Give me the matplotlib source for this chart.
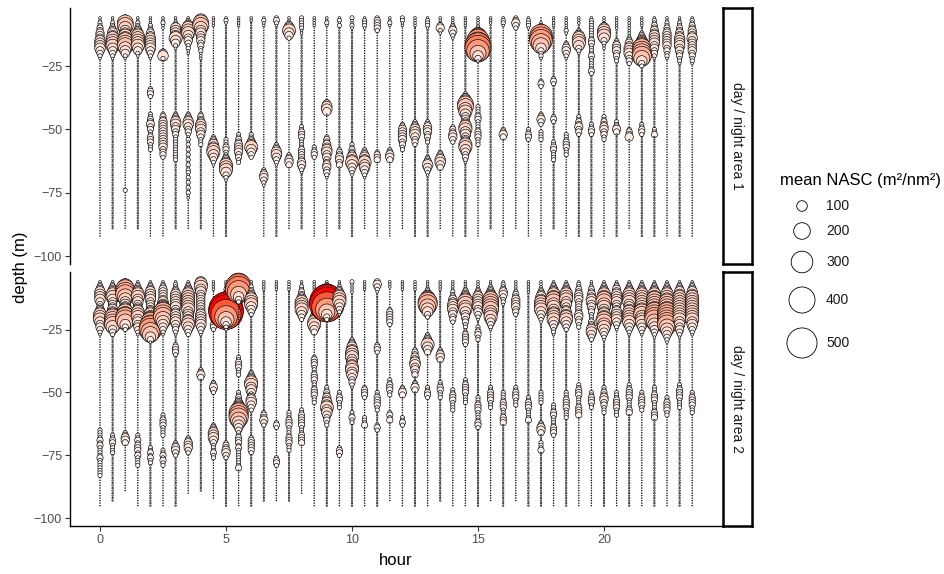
import numpy as np
import matplotlib
matplotlib.use("Agg")
import matplotlib.pyplot as plt
from matplotlib.colors import ListedColormap

plt.rcParams['font.family'] = ['Liberation Sans', 'DejaVu Sans']
DPI = 100

# sampling hours (one profile every half hour)
hours = [0, 0.5, 1, 1.5, 2, 2.5, 3, 3.5, 4, 4.5, 5, 5.5, 6, 6.5, 7, 7.5,
         8, 8.5, 9, 9.5, 10, 10.5, 11, 11.5, 12, 12.5, 13, 13.5, 14, 14.5, 15, 15.5,
         16, 16.5, 17, 17.5, 18, 18.5, 19, 19.5, 20, 20.5, 21, 21.5, 22, 22.5, 23, 23.5]

# NASC classes: one character per 1 m depth bin
level_chars = ".:123456789ABC"
level_nasc = [2, 5, 12, 25, 45, 70, 100, 140, 190, 250, 320, 400, 500, 620]
legend_breaks = [100, 200, 300, 400, 500]
panel_labels = ["day / night area 1", "day / night area 2"]
top_depth = 6

# ---- area 1 ----
area1_bottom = [92, 89, 89, 89, 92, 92, 89, 89, 89, 92, 92, 63, 61, 92, 92, 89,
                89, 92, 92, 89, 92, 89, 92, 92, 89, 92, 92, 89, 92, 92, 92, 89,
                92, 89, 92, 92, 89, 92, 92, 92, 92, 92, 89, 92, 92, 92, 92, 92]
area1_background = ".:.:..:.:.:.:.:.:" + "..::....::..:.:...." + ":.::.:.::.:."
area1_layers = [
    [(6, "11223344455554321")],
    [(6, "11223455666654321")],
    [(6, "35776556677765421"), (74, "2")],
    [(6, "1122345666665421")],
    [(6, "11122344555554321"), (34, "2332"), (44, "223343322333222")],
    [(6, "11211"), (19, "2452"), (44, "233444444444443332")],
    [(6, "1123555565421"), (44, "2345544332222222222")],
    [(6, "123566654432211"), (44, "234554332"), (53, "1212121212121221212121211")],
    [(6, "36776554443322111"), (44, "2334555443222")],
    [(6, "1111"), (53, "234556654321")],
    [(6, "121"), (54, "22233223456665321")],
    [(6, "1111"), (52, "223344443322")],
    [(6, "11"), (52, "2234565432")],
    [(6, "1211"), (66, "2344321")],
    [(6, "2321"), (56, "234554321")],
    [(6, "112456542"), (60, "23443")],
    [(6, "2222211"), (49, "2233322223333344321")],
    [(6, "1111"), (57, "22332")],
    [(6, "1121"), (39, "24554"), (53, "23344554433443321")],
    [(6, "1212"), (58, "2334433")],
    [(6, "21121"), (56, "2233455654321")],
    [(6, "12221"), (58, "234556554321")],
    [(6, "233332"), (59, "2333")],
    [(6, "1121"), (58, "23443")],
    [(6, "2211"), (48, "23444443322")],
    [(6, "1111"), (47, "2345554332")],
    [(6, "12221"), (47, "234443322"), (61, "23454321")],
    [(6, "1113421"), (59, "2345543")],
    [(6, "111234321"), (49, "2334432")],
    [(6, "1111"), (36, "2356776654445665544566543321")],
    [(6, "1111"), (10, "2357899AA97531"), (41, "2222332222333222")],
    [(6, "111")],
    [(6, "1221"), (50, "2343")],
    [(6, "23432")],
    [(6, "12221"), (50, "22332")],
    [(8, "123679998753221"), (31, "232"), (44, "23432"), (51, "2222")],
    [(6, "1111"), (30, "232"), (45, "232"), (55, "22332222")],
    [(6, "1111121"), (16, "2344321"), (52, "222333222")],
    [(6, "111"), (11, "2356665321"), (45, "22334332")],
    [(6, "1222"), (10, "2222233222232222232"), (48, "22332")],
    [(6, "1113566653211"), (45, "2233443322")],
    [(6, "11111"), (15, "234443322"), (47, "22343")],
    [(6, "11111111"), (14, "23445554332"), (50, "2334")],
    [(6, "1111"), (12, "23456788887532"), (48, "22332")],
    [(6, "12233445555443321"), (50, "223")],
    [(6, "11223344444433221")],
    [(6, "1122334455554433221")],
    [(6, "1223344454444433221")],
]

# ---- area 2 ----
area2_bottom = [95, 93, 89, 95, 95, 95, 95, 90, 89, 92, 95, 95, 95, 93, 93, 93,
                90, 95, 95, 95, 95, 95, 95, 93, 95, 95, 95, 93, 95, 95, 95, 93,
                95, 93, 95, 95, 95, 95, 95, 95, 95, 95, 95, 95, 95, 95, 95, 95]
area2_background = ".:..:.:." + ":.:.::.:" + "..:.:.:." + ".:.:..:." + ":.::.:.." + ":.:.:.:."
area2_layers = [
    [(6, "1234555543345666544321"), (65, "2222323222232222222")],
    [(6, "1234566544455677776432"), (67, "22332222")],
    [(6, "35788876555677887532"), (66, "23443")],
    [(6, "1234566554456665544321"), (67, "2232333232222")],
    [(6, "1234555544445667889987531"), (72, "2232322")],
    [(6, "1234444455678887654321"), (59, "223332222"), (73, "2232322")],
    [(6, "1223455555544555543321"), (31, "23332"), (70, "234432")],
    [(6, "1234566666665555665432"), (68, "2344432")],
    [(6, "5665544444444555554321"), (41, "2343")],
    [(6, "1111"), (22, "2332"), (46, "23432"), (63, "234555432"), (72, "22322")],
    [(6, "1112234579BCCB975321"), (70, "2334432")],
    [(6, "79AA97532"), (36, "22333222"), (50, "2233456788876543223332322222223")],
    [(6, "11223456665432"), (42, "2345665543455432"), (68, "2333332")],
    [(6, "1111"), (58, "233432")],
    [(6, "1111"), (62, "232"), (76, "2332")],
    [(6, "1111"), (58, "2223332222333222")],
    [(6, "1122334566665432"), (57, "22333332223333")],
    [(6, "1111"), (18, "234566543"), (36, "2333222333222333222")],
    [(6, "123468ABCCB97532"), (48, "2233445565543322")],
    [(6, "11234566654321"), (50, "2233222"), (72, "2332")],
    [(6, "21111"), (29, "23455666555665543321"), (58, "22322")],
    [(6, "1111"), (48, "23332"), (60, "2223")],
    [(6, "34321"), (31, "2332"), (50, "22333322"), (63, "232")],
    [(6, "111"), (17, "2333332"), (45, "2233322"), (58, "2323")],
    [(6, "1111"), (48, "2343"), (60, "2232")],
    [(6, "1111"), (33, "23344554433"), (46, "2343")],
    [(6, "11"), (8, "1234678876532"), (27, "23456543"), (48, "22332")],
    [(6, "1111"), (33, "23443"), (46, "2233222")],
    [(6, "111"), (9, "12234455544332"), (49, "223332222")],
    [(6, "11"), (8, "123456776654433221"), (26, "233332"), (45, "2233332222")],
    [(6, "11"), (8, "12345555544321"), (24, "223322"), (52, "2223332222332")],
    [(6, "1"), (7, "1234567777766654321"), (48, "223333222")],
    [(6, "1223443221"), (50, "2222333222333")],
    [(6, "1111"), (10, "2334444332"), (48, "22333222")],
    [(6, "11111"), (52, "2233322223")],
    [(6, "11"), (8, "123455666654321"), (50, "22222"), (62, "23443"), (70, "2223")],
    [(6, "1234566776655666543221"), (55, "2223322223332")],
    [(6, "12345666554455665432"), (50, "22233332222")],
    [(6, "1223344433333443322"), (47, "2233322223333")],
    [(6, "11"), (8, "2334455443322233455432"), (50, "2233322")],
    [(6, "123456677665566776654321"), (48, "22334433222")],
    [(6, "12344555544455554321"), (50, "2223333222")],
    [(6, "1234566665556666654321"), (47, "223333222233")],
    [(6, "1234566666667766654321"), (50, "22333322")],
    [(6, "12345667777788887654321"), (48, "2223332222333")],
    [(6, "1234566677778888887654321"), (52, "22333322")],
    [(6, "12345566666666665544321"), (47, "2233332222")],
    [(6, "1234556666666666554321"), (50, "223333222")],
]


def build_points(bottoms, background, layers):
    xs, ys, vals = [], [], []
    for h, bottom, bg, segs in zip(hours, bottoms, background, layers):
        profile = {d: bg for d in range(top_depth, bottom + 1)}
        for start, levels in segs:
            for k, ch in enumerate(levels):
                profile[start + k] = ch
        for d in sorted(profile):
            xs.append(h)
            ys.append(-d)
            vals.append(level_nasc[level_chars.index(profile[d])])
    return np.array(xs), np.array(ys), np.array(vals, dtype=float)


def marker_area(v):
    diam_px = 0.53 * np.asarray(v, dtype=float) ** 0.65
    return (diam_px * 72 / DPI) ** 2


# white -> red gradient interpolated in CIELAB (like ggplot)
M = np.array([[0.4124564, 0.3575761, 0.1804375],
              [0.2126729, 0.7151522, 0.0721750],
              [0.0193339, 0.1191920, 0.9503041]])
WHITE = np.array([0.95047, 1.0, 1.08883])


def srgb_to_lab(rgb):
    lin = np.where(rgb > 0.04045, ((rgb + 0.055) / 1.055) ** 2.4, rgb / 12.92)
    xyz = lin @ M.T / WHITE
    f = np.where(xyz > 216 / 24389, np.cbrt(xyz), (24389 / 27 * xyz + 16) / 116)
    return np.stack([116 * f[..., 1] - 16, 500 * (f[..., 0] - f[..., 1]),
                     200 * (f[..., 1] - f[..., 2])], axis=-1)


def lab_to_srgb(lab):
    fy = (lab[..., 0] + 16) / 116
    f = np.stack([fy + lab[..., 1] / 500, fy, fy - lab[..., 2] / 200], axis=-1)
    xyz = np.where(f ** 3 > 216 / 24389, f ** 3, (116 * f - 16) / (24389 / 27)) * WHITE
    lin = np.clip(xyz @ np.linalg.inv(M).T, 0, 1)
    return np.where(lin > 0.0031308, 1.055 * lin ** (1 / 2.4) - 0.055, 12.92 * lin)


lab_lo = srgb_to_lab(np.array([1.0, 1.0, 1.0]))
lab_hi = srgb_to_lab(np.array([1.0, 0.0, 0.0]))
t = np.linspace(0, 1, 256)[:, None]
cmap = ListedColormap(np.clip(lab_to_srgb(lab_lo + (lab_hi - lab_lo) * t), 0, 1))

vmax = max(level_nasc)

fig = plt.figure(figsize=(9.45, 5.74), dpi=DPI)
W, H = 945.0, 574.0
left_px, right_px = 70.4, 721.8
panels = [(8, 264), (272, 526)]
datasets = [(area1_bottom, area1_background, area1_layers),
            (area2_bottom, area2_background, area2_layers)]

for i, ((top_px, bot_px), data) in enumerate(zip(panels, datasets)):
    ax = fig.add_axes([left_px / W, 1 - bot_px / H, (right_px - left_px) / W,
                       (bot_px - top_px) / H])
    x, y, v = build_points(*data)
    ax.scatter(x, y, s=marker_area(v), c=v, cmap=cmap, vmin=0, vmax=vmax,
               edgecolors='black', linewidths=0.45)
    ax.set_xlim(-1.175, 24.675)
    ax.set_ylim(-103.1, -2.1)
    ax.set_yticks([-25, -50, -75, -100])
    ax.set_xticks([0, 5, 10, 15, 20])
    for s in ['top', 'right']:
        ax.spines[s].set_visible(False)
    ax.spines['left'].set_linewidth(1.0)
    ax.spines['bottom'].set_linewidth(1.0)
    ax.tick_params(colors='#333333', labelcolor='#4D4D4D', labelsize=9,
                   length=3.5, width=0.8, pad=2.5)
    if i == 0:
        ax.spines['bottom'].set_visible(False)
        ax.tick_params(axis='x', bottom=False, labelbottom=False)
    else:
        ax.set_xlabel('hour', fontsize=12, labelpad=5)

    # facet strip on the right
    sax = fig.add_axes([723 / W, 1 - bot_px / H, 29 / W, (bot_px - top_px) / H])
    sax.set_xticks([])
    sax.set_yticks([])
    for s in sax.spines.values():
        s.set_linewidth(1.8)
    sax.text(0.5, 0.5, panel_labels[i], rotation=-90, ha='center', va='center',
             fontsize=10, color='#1A1A1A', transform=sax.transAxes)

fig.text(21 / W, 1 - 267 / H, 'depth (m)', rotation=90, ha='center', va='center',
         fontsize=12)

# size legend
lax = fig.add_axes([0, 0, 1, 1], facecolor='none')
lax.set_xlim(0, W)
lax.set_ylim(H, 0)
lax.axis('off')
lax.text(780, 180, 'mean NASC (m\u00b2/nm\u00b2)', fontsize=12, ha='left', va='center')
legend_y = [206, 231, 262, 300, 343]
lax.scatter([802] * len(legend_breaks), legend_y, s=marker_area(legend_breaks),
            facecolors='white', edgecolors='black', linewidths=0.6)
for b, yy in zip(legend_breaks, legend_y):
    lax.text(826, yy, str(b), fontsize=10, ha='left', va='center', color='#1A1A1A')

fig.savefig('out.png', dpi=DPI)
